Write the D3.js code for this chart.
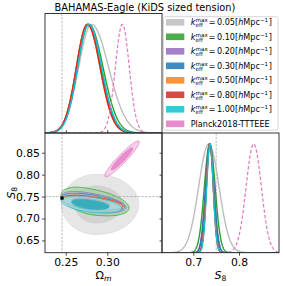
<!DOCTYPE html>
<html><head><meta charset="utf-8">
<script src="https://cdn.jsdelivr.net/npm/d3@7"></script>
<style>
body{margin:0;background:#fff}
svg{display:block}
text{font-family:"DejaVu Sans",sans-serif;fill:#000}
</style>
</head><body>
<svg id="c" width="283" height="286"></svg>
<script>
// ---------- data ----------
const titleText = "BAHAMAS-Eagle (KiDS sized tension)";
const kValues = ["0.05","0.10","0.20","0.30","0.50","0.80","1.00"];
const planckLabel = "Planck2018-TTTEEE";
const seriesColors = ["#bdbdbd","#2ca02c","#9467bd","#1f77b4","#ff7f0e","#d62728","#17becf","#e377c2"];
// 1D Omega_m posteriors (mode, sigma left, sigma right)
const omMode = [0.2810,0.2780,0.2765,0.2765,0.2760,0.2762,0.2778,0.3182];
const omSigL = [0.0154,0.0137,0.0135,0.0135,0.0133,0.0133,0.0135,0.0084];
const omSigR = [0.0206,0.0169,0.0160,0.0158,0.0152,0.0152,0.0155,0.0084];
// 1D S8 posteriors (mode, sigma)
const s8Mode = [0.7340,0.7360,0.7360,0.7360,0.7362,0.7362,0.7365,0.8322];
const s8Sig  = [0.0223,0.0118,0.0094,0.0090,0.0075,0.0075,0.0072,0.0167];
// 2D contours (centre, sigmas, correlation)
const c2Om     = [0.2865,0.2785,0.2775,0.2775,0.2775,0.2775,0.2775,0.3178];
const c2OmSigL = [0.0170,0.0140,0.0135,0.0135,0.0134,0.0134,0.0135,0.0085];
const c2OmSigR = [0.0210,0.0195,0.0185,0.0178,0.0172,0.0168,0.0163,0.0085];
const c2S8     = [0.7320,0.7388,0.7373,0.7370,0.7362,0.7362,0.7320,0.8360];
const c2S8Sig  = [0.0280,0.0134,0.0100,0.0085,0.0072,0.0068,0.0078,0.0167];
const c2Rho    = [0.00,-0.45,-0.5,-0.5,-0.5,-0.5,-0.45,0.94];
const contourLevels = [2.448, 1.515]; // 95%, 68%
const fiducialOm = 0.2455, fiducialS8 = 0.7500;
const pointOm = 0.2455, pointS8 = 0.7465;
const omTicks = [0.25, 0.30];
const omTickLabels = ["0.25","0.30"];
const s8YTicks = [0.65,0.70,0.75,0.80,0.85];
const s8YTickLabels = ["0.65","0.70","0.75","0.80","0.85"];
const s8XTicks = [0.7,0.8];
const s8XTickLabels = ["0.7","0.8"];

// ---------- layout ----------
const svg = d3.select("#c");
const L = 45, M = 162, R = 279, T = 13.5, Mid = 133, B = 252.7;
const xOm = d3.scaleLinear().domain([0.225,0.366]).range([L,M]);
const yS8 = d3.scaleLinear().domain([0.622,0.895]).range([B,Mid]);
const xS8 = d3.scaleLinear().domain([0.6315,0.8875]).range([M,R]);
const yD1 = d3.scaleLinear().domain([0,1.1]).range([Mid,T]);
const yD2 = d3.scaleLinear().domain([0,1.1]).range([B,Mid]);

const defs = svg.append("defs");
function clip(id,x,y,w,h){defs.append("clipPath").attr("id",id).append("rect").attr("x",x).attr("y",y).attr("width",w).attr("height",h);}
clip("cTL",L,T,M-L,Mid-T); clip("cBL",L,Mid,M-L,B-Mid); clip("cBR",M,Mid,R-M,B-Mid);

const refStyle = g => g.attr("stroke","#a0a0a0").attr("stroke-width",0.7).attr("stroke-dasharray","2.5,1.2");

// ---------- top-left: 1D Omega_m ----------
const gTL = svg.append("g").attr("clip-path","url(#cTL)");
gTL.append("line").attr("x1",xOm(fiducialOm)).attr("x2",xOm(fiducialOm)).attr("y1",T).attr("y2",Mid).call(refStyle);
const omGrid = d3.range(0.225,0.3661,0.0005);
omMode.forEach((m,i)=>{
  const pts = omGrid.map(x=>{const s = x<m?omSigL[i]:omSigR[i]; return [x, Math.exp(-0.5*((x-m)/s)**2)];});
  gTL.append("path").attr("d", d3.line().x(d=>xOm(d[0])).y(d=>yD1(d[1]))(pts))
    .attr("fill","none").attr("stroke",seriesColors[i]).attr("stroke-width",i==7?1.2:1.4)
    .attr("stroke-dasharray", i==7?"3.5,2":null);
});

// ---------- bottom-right: 1D S8 ----------
const gBR = svg.append("g").attr("clip-path","url(#cBR)");
gBR.append("line").attr("x1",xS8(fiducialS8)).attr("x2",xS8(fiducialS8)).attr("y1",Mid).attr("y2",B).call(refStyle);
const s8Grid = d3.range(0.6315,0.8876,0.0005);
s8Mode.forEach((m,i)=>{
  const pts = s8Grid.map(x=>[x, Math.exp(-0.5*((x-m)/s8Sig[i])**2)]);
  gBR.append("path").attr("d", d3.line().x(d=>xS8(d[0])).y(d=>yD2(d[1]))(pts))
    .attr("fill","none").attr("stroke",seriesColors[i]).attr("stroke-width",i==7?1.2:1.4)
    .attr("stroke-dasharray", i==7?"3.5,2":null);
});

// ---------- bottom-left: 2D contours ----------
const gBL = svg.append("g").attr("clip-path","url(#cBL)");
function contour(i,r){
  const rho=c2Rho[i], q=Math.sqrt(1-rho*rho);
  return d3.range(0,360,2).map(a=>{
    const t=a*Math.PI/180,u=Math.cos(t),v=Math.sin(t);
    const sx=u<0?c2OmSigL[i]:c2OmSigR[i];
    return [xOm(c2Om[i]+r*u*sx), yS8(c2S8[i]+r*c2S8Sig[i]*(rho*u+q*v))];
  });
}
const lineC = d3.line().curve(d3.curveCardinalClosed);
const white = "#ffffff";
c2Om.forEach((_,i)=>{
  const col = seriesColors[i];
  const light = d3.interpolateRgb(col,white)(0.55);
  const dark = i==0 ? "#d2d2d2" : (i==6 ? "#1ea9b8" : d3.interpolateRgb(col,white)(0.05));
  gBL.append("path").attr("d",lineC(contour(i,contourLevels[0])))
    .attr("fill",i==0?"#e6e6e6":light).attr("fill-opacity",i==0?1:0.75)
    .attr("stroke",i==0?"#d8d8d8":col).attr("stroke-width",0.8).attr("stroke-opacity",0.9);
  gBL.append("path").attr("d",lineC(contour(i,contourLevels[1])))
    .attr("fill",dark).attr("fill-opacity",i==0?1:0.8)
    .attr("stroke",i==0?"#cfcfcf":col).attr("stroke-width",0.8).attr("stroke-opacity",0.9);
});
gBL.append("line").attr("x1",xOm(fiducialOm)).attr("x2",xOm(fiducialOm)).attr("y1",Mid).attr("y2",B).call(refStyle);
gBL.append("line").attr("x1",L).attr("x2",M).attr("y1",yS8(fiducialS8)).attr("y2",yS8(fiducialS8)).call(refStyle);
gBL.append("rect").attr("x",xOm(pointOm)-1.6).attr("y",yS8(pointS8)-1.6).attr("width",3.2).attr("height",3.2).attr("fill","#000");

// ---------- frames ----------
[[L,T,M-L,Mid-T],[L,Mid,M-L,B-Mid],[M,Mid,R-M,B-Mid]].forEach(r=>{
  svg.append("rect").attr("x",r[0]).attr("y",r[1]).attr("width",r[2]).attr("height",r[3])
    .attr("fill","none").attr("stroke","#222").attr("stroke-width",0.9);
});

// ---------- axes ----------
const tickFont = 10.8;
svg.append("g").attr("transform",`translate(${L},0)`)
  .call(d3.axisLeft(yS8).tickValues(s8YTicks).tickFormat((d,i)=>s8YTickLabels[i]).tickSize(3).tickPadding(2));
svg.append("g").attr("transform",`translate(0,${B})`)
  .call(d3.axisBottom(xOm).tickValues(omTicks).tickFormat((d,i)=>omTickLabels[i]).tickSize(3).tickPadding(2.5));
svg.append("g").attr("transform",`translate(0,${B})`)
  .call(d3.axisBottom(xS8).tickValues(s8XTicks).tickFormat((d,i)=>s8XTickLabels[i]).tickSize(3).tickPadding(2.5));
// inner ticks
svg.append("g").attr("transform",`translate(0,${Mid})`)
  .call(d3.axisBottom(xOm).tickValues(omTicks).tickFormat("").tickSize(-3));
svg.append("g").attr("transform",`translate(${M},0)`)
  .call(d3.axisRight(yS8).tickValues(s8YTicks).tickFormat("").tickSize(-2.5));
svg.selectAll(".domain").remove();
svg.selectAll(".tick line").attr("stroke","#222").attr("stroke-width",0.8);
svg.selectAll(".tick text").attr("font-size",tickFont).attr("font-family","DejaVu Sans").attr("fill","#000");

// axis labels
const xl1 = svg.append("text").attr("x",xOm(0.2955)).attr("y",278.5).attr("text-anchor","middle").attr("font-size",11);
xl1.append("tspan").text("Ω");
xl1.append("tspan").text("m").attr("font-style","italic").attr("font-size",7.7).attr("dy",2.2);
const xl2 = svg.append("text").attr("x",(M+R)/2).attr("y",278.5).attr("text-anchor","middle").attr("font-size",11);
xl2.append("tspan").text("S").attr("font-style","italic");
xl2.append("tspan").text("8").attr("font-size",7.7).attr("dy",2.2);
const yl = svg.append("text").attr("transform",`translate(15,${(Mid+B)/2}) rotate(-90)`).attr("text-anchor","middle").attr("font-size",11);
yl.append("tspan").text("S").attr("font-style","italic");
yl.append("tspan").text("8").attr("font-size",7.7).attr("dy",2.2);

// title
svg.append("text").attr("x",145).attr("y",11).attr("text-anchor","middle").attr("font-size",9.8).text(titleText);

// ---------- legend ----------
const lg = svg.append("g");
lg.append("rect").attr("x",163.5).attr("y",16.7).attr("width",114.5).attr("height",113.5).attr("rx",2)
  .attr("fill","#fff").attr("fill-opacity",0.8).attr("stroke","#cccccc").attr("stroke-width",0.8);
const fs = 8.1, ss = 5.6, rowY0 = 22.3, rowDy = 14.5, tx0 = 190.7;
function piece(x,y,t,size,italic){
  const e = lg.append("text").attr("x",x).attr("y",y).attr("font-size",size).text(t);
  if(italic) e.attr("font-style","italic");
  return e.node().getComputedTextLength();
}
seriesColors.forEach((c,i)=>{
  const cy = rowY0 + i*rowDy;
  lg.append("rect").attr("x",166).attr("y",cy-3.3).attr("width",18.3).attr("height",6.6).attr("fill",c).attr("fill-opacity",0.85);
  const by = cy + 3;
  if(i<7){
    let x = tx0;
    x += piece(x,by,"k",fs,true) + 0.2;
    const w1 = piece(x,by-3.2,"max",ss,false);
    const w2 = piece(x,by+1.9,"eff",ss,false);
    x += Math.max(w1,w2) + 1.0;
    x += piece(x,by,"=",fs,false) + 1.4;
    x += piece(x,by,kValues[i]+"[",fs,false);
    x += piece(x,by,"h",fs,true);
    x += piece(x,by,"Mpc",fs,false);
    x += piece(x,by-3.2,"−1",ss,false) + 0.5;
    piece(x,by,"]",fs,false);
  } else {
    piece(tx0,by,planckLabel,fs,false);
  }
});
</script>
</body></html>
